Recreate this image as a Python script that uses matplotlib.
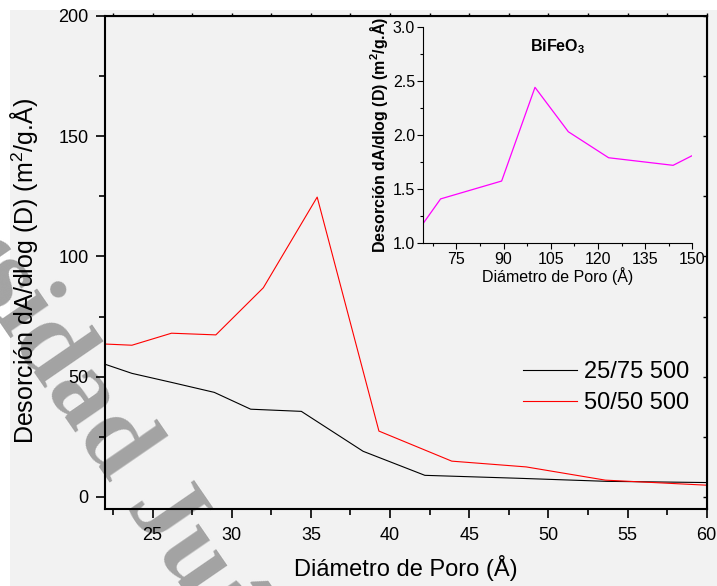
import numpy as np
import matplotlib
matplotlib.use("Agg")
import matplotlib.pyplot as plt
from matplotlib.patches import Rectangle
from matplotlib.ticker import MultipleLocator, FormatStrFormatter

plt.rcParams['font.family'] = ['Liberation Sans', 'DejaVu Sans']
plt.rcParams['mathtext.fontset'] = 'custom'
plt.rcParams['mathtext.rm'] = 'Liberation Sans'
plt.rcParams['mathtext.bf'] = 'Liberation Sans:bold'

# ---------- Data ----------
x_2575 = [22.0, 23.7, 26.3, 28.9, 31.2, 34.4, 38.3, 42.2, 48.0, 53.7, 60.0]
y_2575 = [55.2, 51.4, 47.5, 43.5, 36.5, 35.6, 19.0, 9.0, 7.8, 6.5, 6.0]

x_5050 = [22.0, 23.7, 26.2, 29.0, 32.0, 35.4, 39.3, 43.9, 48.6, 53.6, 60.0]
y_5050 = [63.6, 63.1, 68.1, 67.4, 87.0, 124.7, 27.4, 14.9, 12.5, 7.0, 4.9]

x_bfo = [64.5, 70.0, 89.4, 100.0, 110.6, 123.4, 143.9, 150.0]
y_bfo = [1.185, 1.41, 1.575, 2.44, 2.03, 1.79, 1.72, 1.81]

series_labels = ["25/75 500", "50/50 500"]
bg = "#f2f2f2"

fig = plt.figure(figsize=(7.17, 5.86), dpi=100)
fig.patch.set_facecolor("white")
fig.add_artist(Rectangle((10 / 717, 0), 1.0, 1 - 10 / 586, transform=fig.transFigure,
                         facecolor=bg, edgecolor="none", zorder=-3))

# watermark
fig.text(-0.2944, 0.9729, "Universidad Juárez Autónoma de Tabasco", family="Liberation Serif",
         fontweight="bold", fontsize=78, color="#a3a3a3", rotation=-55.5,
         rotation_mode="anchor", ha="left", va="baseline", zorder=-1)

# ---------- Main axes ----------
ax = fig.add_axes([105 / 717, 1 - 509 / 586, (706.7 - 105) / 717, (509 - 16) / 586])
ax.set_facecolor("none")
ax.plot(x_2575, y_2575, color="black", lw=0.8, label=series_labels[0])
ax.plot(x_5050, y_5050, color="#ff0000", lw=0.8, label=series_labels[1])
ax.set_xlim(22, 60)
ax.set_ylim(-5, 200)
ax.xaxis.set_major_locator(MultipleLocator(5))
ax.xaxis.set_minor_locator(MultipleLocator(2.5))
ax.yaxis.set_major_locator(MultipleLocator(50))
ax.yaxis.set_minor_locator(MultipleLocator(25))
for s in ax.spines.values():
    s.set_linewidth(1.5)
ax.tick_params(which="major", direction="out", length=6.7, width=1.2, labelsize=13)
ax.tick_params(which="minor", direction="out", length=4.3, width=1.2)
ax.tick_params(axis="y", pad=5)
ax.tick_params(axis="x", pad=6)

# small ticks on top (out) and right (in)
top = ax.secondary_xaxis("top")
top.xaxis.set_major_locator(MultipleLocator(2.5))
top.tick_params(direction="out", length=2, width=1, labeltop=False)
right = ax.secondary_yaxis("right")
right.yaxis.set_major_locator(MultipleLocator(25))
right.tick_params(direction="in", length=3, width=1, labelright=False)

ax.set_xlabel("Diámetro de Poro (Å)", fontsize=17, labelpad=8)
ax.set_ylabel(r"Desorción dA/dlog (D) (m$^2$/g.Å)", fontsize=18)
ax.yaxis.set_label_coords(-0.108, 0.483)

ax.legend(frameon=False, fontsize=17, loc="center left",
          bbox_to_anchor=(0.6947, 0.2464), borderpad=0, borderaxespad=0,
          handlelength=2.3, handletextpad=0.3, labelspacing=0.4)

# ---------- Inset ----------
ins = fig.add_axes([423.3 / 717, 1 - 243.3 / 586, (692.3 - 423.3) / 717, (243.3 - 26.7) / 586])
ins.set_facecolor("none")
ins.plot(x_bfo, y_bfo, color="#ff00ff", lw=0.9)
ins.set_xlim(64.5, 150)
ins.set_ylim(1.0, 3.0)
ins.xaxis.set_major_locator(MultipleLocator(15))
ins.xaxis.set_minor_locator(MultipleLocator(7.5))
ins.yaxis.set_major_locator(MultipleLocator(0.5))
ins.yaxis.set_minor_locator(MultipleLocator(0.25))
ins.yaxis.set_major_formatter(FormatStrFormatter("%.1f"))
ins.spines["top"].set_visible(False)
ins.spines["right"].set_visible(False)
for s in ["left", "bottom"]:
    ins.spines[s].set_linewidth(0.8)
ins.tick_params(which="major", direction="out", length=4, width=0.8, labelsize=11.5, pad=2)
ins.tick_params(which="minor", direction="out", length=2.5, width=0.8)
ins.set_xlabel("Diámetro de Poro (Å)", fontsize=11.5, labelpad=0)
ins.set_ylabel(r"Desorción dA/dlog (D) (m$^\mathbf{2}$/g.Å)", fontsize=11.5,
               fontweight="bold", labelpad=2)
ins.text(0.5, 0.91, r"BiFeO$_\mathbf{3}$", transform=ins.transAxes, fontsize=11.5,
         fontweight="bold", ha="center", va="center")

fig.savefig("out.png", dpi=100, facecolor=fig.get_facecolor())
